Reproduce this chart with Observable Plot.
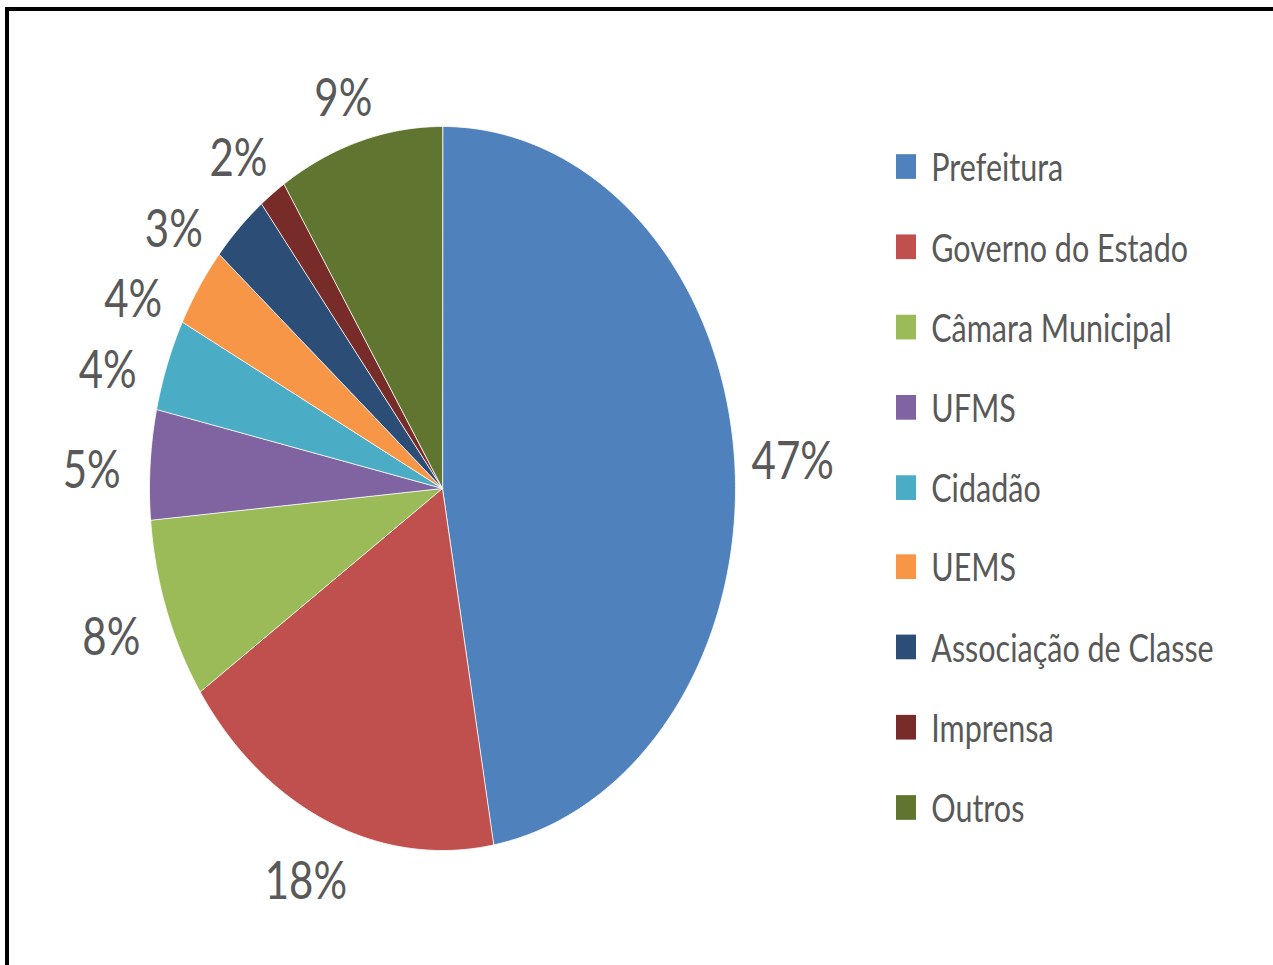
<!DOCTYPE html>
<html><head><meta charset="utf-8">
<script src="https://cdn.jsdelivr.net/npm/d3@7"></script>
<script src="https://cdn.jsdelivr.net/npm/@observablehq/plot@0.6"></script>
<style>
html,body{margin:0;padding:0;background:#fff;}
body{width:1273px;height:965px;position:relative;overflow:hidden;}
#frame{position:absolute;left:5px;top:7px;width:1300px;height:1000px;border-top:4px solid #000;border-left:4px solid #000;box-sizing:border-box;}
#chart{position:absolute;left:0;top:0;}
#legend{position:absolute;left:896px;top:127px;transform:scaleY(1.235);transform-origin:0 0;}
#legend > div{font-family:Lato,sans-serif;font-size:30.5px;color:#595959;margin:0;}
#legend [class$="-swatch"]{height:64.8px;padding-bottom:0;}
</style></head><body>
<div id="frame"></div><div id="chart"></div><div id="legend"></div>
<script>
const categories = ["Prefeitura","Governo do Estado","Câmara Municipal","UFMS","Cidadão","UEMS","Associação de Classe","Imprensa","Outros"];
const values = [47.2, 18.3, 8.1, 4.9, 4.1, 3.6, 3.2, 1.5, 9.1];
const colors = ["#4F81BD","#C0504D","#9BBB59","#8064A2","#4BACC6","#F79646","#2C4D75","#772C2A","#5F7530"];

const data = categories.map((name, i) => ({name, value: values[i]}));
const arcs = d3.pie().sort(null).value(d => d.value)(data);

// slice polygons in unit-circle data space (scales make it an ellipse)
const pts = [];
for (const a of arcs) {
  const n = Math.max(2, Math.ceil((a.endAngle - a.startAngle) / 0.01));
  pts.push({name: a.data.name, x: 0, y: 0});
  for (let k = 0; k <= n; k++) {
    const t = a.startAngle + (a.endAngle - a.startAngle) * k / n;
    pts.push({name: a.data.name, x: Math.sin(t), y: Math.cos(t)});
  }
}

// labels at mid-angle on a ring outside the pie; left-side labels spread vertically
const Rx = 1.2, Ry = 1.15, gap = 0.195;
const labels = arcs.map(a => {
  const m = (a.startAngle + a.endAngle) / 2;
  return {text: Math.round(a.data.value) + "%", x: Rx * Math.sin(m), y: Ry * Math.cos(m)};
});
const left = labels.filter(l => l.x < -0.5 * Rx).sort((a, b) => b.y - a.y);
let prev = Infinity;
for (const l of left) {
  l.y = Math.min(l.y, prev - gap);
  prev = l.y;
  l.x = -Rx * Math.sqrt(Math.max(0, 1 - (l.y / Ry) ** 2));
}

const W = 1273, H = 965;
const chart = Plot.plot({
  width: W, height: H,
  marginLeft: 149, marginRight: W - 735, marginTop: 126, marginBottom: H - 850,
  x: {domain: [-1, 1], axis: null},
  y: {domain: [-1, 1], axis: null},
  color: {domain: categories, range: colors},
  style: {background: "transparent", overflow: "visible"},
  marks: [
    Plot.line(pts, {x: "x", y: "y", z: "name", fill: "name", stroke: "#ffffff", strokeWidth: 1, strokeOpacity: 0.8, curve: "linear-closed"}),
    Plot.text(labels, {x: "x", y: "y", dy: 10, text: "text", fontSize: 42, fontFamily: "Lato, sans-serif", fill: "#595959"})
  ]
});
// vertical stretch of the label glyphs (the reference is stretched vertically)
chart.querySelectorAll('g[aria-label="text"] text').forEach(t => {
  const tr = t.getAttribute("transform");
  if (tr) t.setAttribute("transform", `${tr} scale(1,1.235)`);
});
document.getElementById("chart").appendChild(chart);

const legend = Plot.legend({
  color: {type: "ordinal", domain: categories, range: colors},
  columns: 1,
  swatchSize: 20
});
document.getElementById("legend").appendChild(legend);
</script>
</body></html>
